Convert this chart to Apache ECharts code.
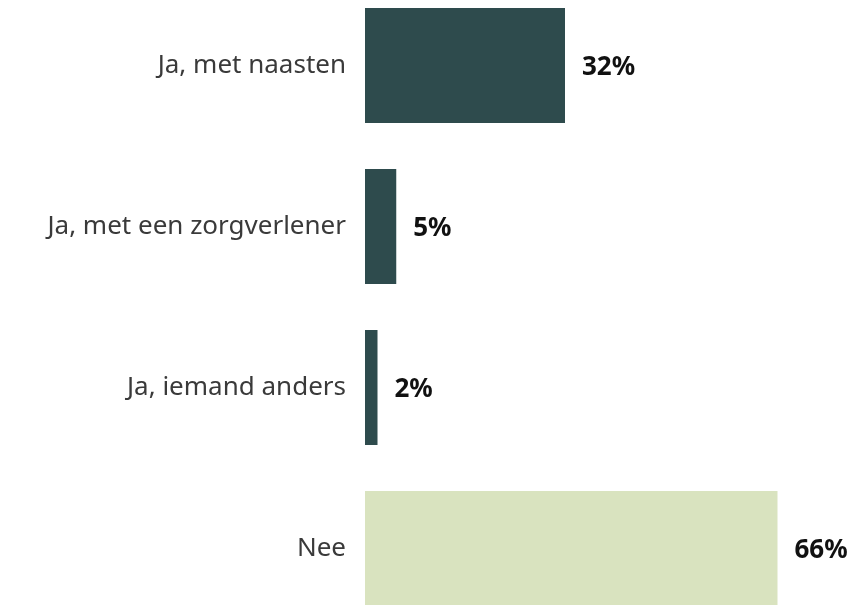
<!DOCTYPE html>
<html><head><meta charset="utf-8">
<script src="https://cdn.jsdelivr.net/npm/echarts@6/dist/echarts.min.js"></script>
<style>html,body{margin:0;padding:0;background:#fff}#c{width:851px;height:605px}</style>
</head><body><div id="c"></div>
<script>
const categories = ["Ja, met naasten", "Ja, met een zorgverlener", "Ja, iemand anders", "Nee"];
const values = [32, 5, 2, 66];
const barColors = ["#2e4b4d", "#2e4b4d", "#2e4b4d", "#d9e3bf"];

const chart = echarts.init(document.getElementById('c'), null, {renderer: 'canvas'});
chart.setOption({
  animation: false,
  grid: {left: 365, width: 475, top: -15, height: 644, containLabel: false, outerBoundsMode: 'none'},
  xAxis: {type: 'value', min: 0, max: 76, show: false},
  yAxis: {
    type: 'category', inverse: true, data: categories,
    axisLine: {show: false}, axisTick: {show: false},
    axisLabel: {margin: 19, fontSize: 26, color: '#3a3a3a', fontFamily: 'Noto Sans', padding: [4, 0, 0, 0]}
  },
  series: [{
    type: 'bar',
    data: values.map((v, i) => ({value: v, itemStyle: {color: barColors[i]}})),
    barCategoryGap: '28.6%',
    label: {show: true, position: 'right', distance: 17, formatter: '{c}%', offset: [0, 2],
      fontSize: 26, fontWeight: 'bold', color: '#111', fontFamily: 'Noto Sans'}
  }]
});
</script></body></html>
